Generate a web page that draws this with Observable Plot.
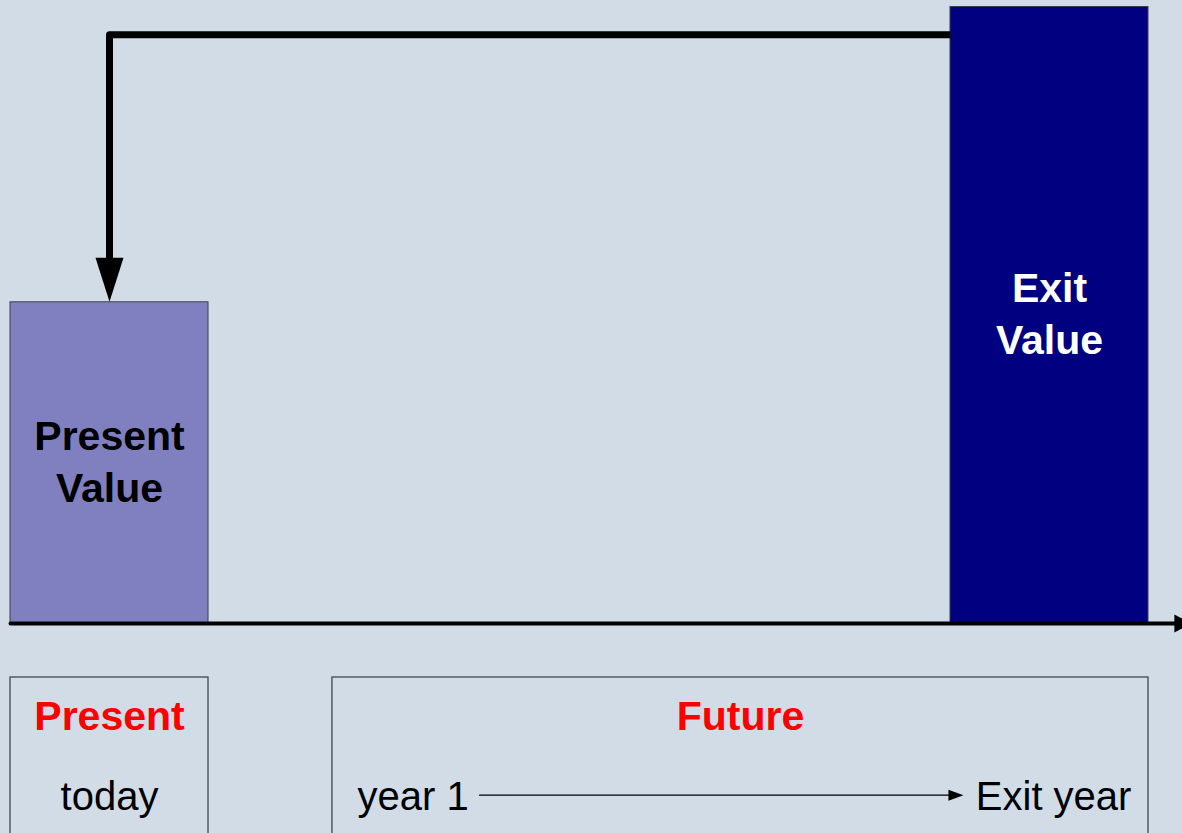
<!DOCTYPE html>
<html>
<head>
<meta charset="utf-8">
<script src="https://cdn.jsdelivr.net/npm/d3@7"></script>
<script src="https://cdn.jsdelivr.net/npm/@observablehq/plot@0.6"></script>
<style>
  html, body { margin: 0; padding: 0; background: #D1DCE6; }
  #chart { width: 1182px; height: 833px; overflow: hidden; }
</style>
</head>
<body>
<div id="chart"></div>
<script>
// ---- Data ----
const categories = ["Present Value", "Exit Value"];
const periodIndex = [0, 4];          // today, exit year (periods)
const values = [52.1, 100];          // relative value (Exit = 100)
const sectionLabels = ["Present", "Future"];
const timelineLabels = ["today", "year 1", "Exit year"];
const barLabels = ["Present\nValue", "Exit\nValue"];

const bars = categories.map((name, i) => ({
  name, period: periodIndex[i], value: values[i], label: barLabels[i]
}));

// ---- Layout (in scale units) ----
const BAR_W = 0.8426;
const LABEL_LIFT = 0.6;
const presentMid = periodIndex[0] + BAR_W / 2;
const exitStart = periodIndex[1];
const exitEnd = periodIndex[1] + BAR_W;
const connectorY = 95.5;
const boxTop = -8.76, boxBottom = -45;
const headerY = -15.2, subY = -28.2, timelineY = -27.85;
const futureLeft = 1.370;

const FONT = "Liberation Sans, Arial, Helvetica, sans-serif";
const colors = ["#8080C0", "#000080"];

const headDown = {draw(ctx) { ctx.moveTo(0, 0); ctx.lineTo(-14, -44); ctx.lineTo(14, -44); ctx.closePath(); }};
const headRightBig = {draw(ctx) { ctx.moveTo(0, 0); ctx.lineTo(-17, -9); ctx.lineTo(-17, 9); ctx.closePath(); }};
const headRightSmall = {draw(ctx) { ctx.moveTo(0, 0); ctx.lineTo(-15, -5.5); ctx.lineTo(-15, 5.5); ctx.closePath(); }};

const boxes = [
  {x1: periodIndex[0], x2: periodIndex[0] + BAR_W, label: sectionLabels[0]},
  {x1: futureLeft, x2: exitEnd, label: sectionLabels[1]}
];

const chart = Plot.plot({
  width: 1182,
  height: 833,
  margin: 0,
  style: {background: "#D1DCE6", fontFamily: FONT, overflow: "visible"},
  x: {type: "linear", domain: [0, exitEnd], range: [10, 1148], axis: null},
  y: {type: "linear", domain: [0, 100], range: [623, 6.5], axis: null},
  color: {domain: categories, range: colors},
  marks: [
    // bars
    Plot.rect(bars, {
      x1: "period", x2: d => d.period + BAR_W, y1: 0, y2: "value",
      fill: "name", stroke: "#3a3f4c", strokeWidth: 1
    }),
    // connector from Exit Value back to Present Value
    Plot.line([[exitStart, connectorY], [presentMid, connectorY], [presentMid, values[0] + 6.5]], {
      stroke: "black", strokeWidth: 7, strokeLinejoin: "round", strokeLinecap: "butt"
    }),
    Plot.dot([[presentMid, values[0] + 0.1]], {symbol: headDown, fill: "black", stroke: "none"}),
    // time axis
    Plot.line([[0, 0], [4.955, 0]], {stroke: "black", strokeWidth: 4}),
    Plot.dot([[5.025, 0]], {symbol: headRightBig, fill: "black", stroke: "none"}),
    // bar labels
    Plot.text(bars.filter(d => d.name === "Present Value"), {
      x: d => d.period + BAR_W / 2, y: d => d.value / 2 + LABEL_LIFT, text: "label",
      fill: "black", fontWeight: "bold", fontSize: 41, lineHeight: 1.28
    }),
    Plot.text(bars.filter(d => d.name === "Exit Value"), {
      x: d => d.period + BAR_W / 2, y: d => d.value / 2 + LABEL_LIFT, text: "label",
      fill: "white", fontWeight: "bold", fontSize: 41, lineHeight: 1.26
    }),
    // lower boxes
    Plot.rect(boxes, {x1: "x1", x2: "x2", y1: boxTop, y2: boxBottom, fill: "none", stroke: "#333a44", strokeWidth: 1.2}),
    Plot.text(boxes, {x: d => (d.x1 + d.x2) / 2, y: headerY, text: "label", fill: "#FF0000", fontWeight: "bold", fontSize: 41, ariaLabel: "stretched"}),
    Plot.text([timelineLabels[0]], {x: presentMid, y: subY, text: d => d, fill: "black", fontSize: 40, ariaLabel: "stretched"}),
    Plot.text([timelineLabels[1]], {x: 1.477, y: subY, text: d => d, fill: "black", fontSize: 40, textAnchor: "start", ariaLabel: "stretched"}),
    Plot.text([timelineLabels[2]], {x: 4.770, y: subY, text: d => d, fill: "black", fontSize: 40, textAnchor: "end", ariaLabel: "stretched"}),
    // timeline arrow
    Plot.line([[1.996, timelineY], [3.995, timelineY]], {stroke: "black", strokeWidth: 1.3}),
    Plot.dot([[4.055, timelineY]], {symbol: headRightSmall, fill: "black", stroke: "none"})
  ]
});

// the lower panel text in the reference is slightly stretched vertically
d3.select(chart).selectAll("g[aria-label='stretched'] text").each(function() {
  const t = this.getAttribute("transform") || "";
  this.setAttribute("transform", t + " scale(1,1.14)");
});

document.getElementById("chart").appendChild(chart);
</script>
</body>
</html>
